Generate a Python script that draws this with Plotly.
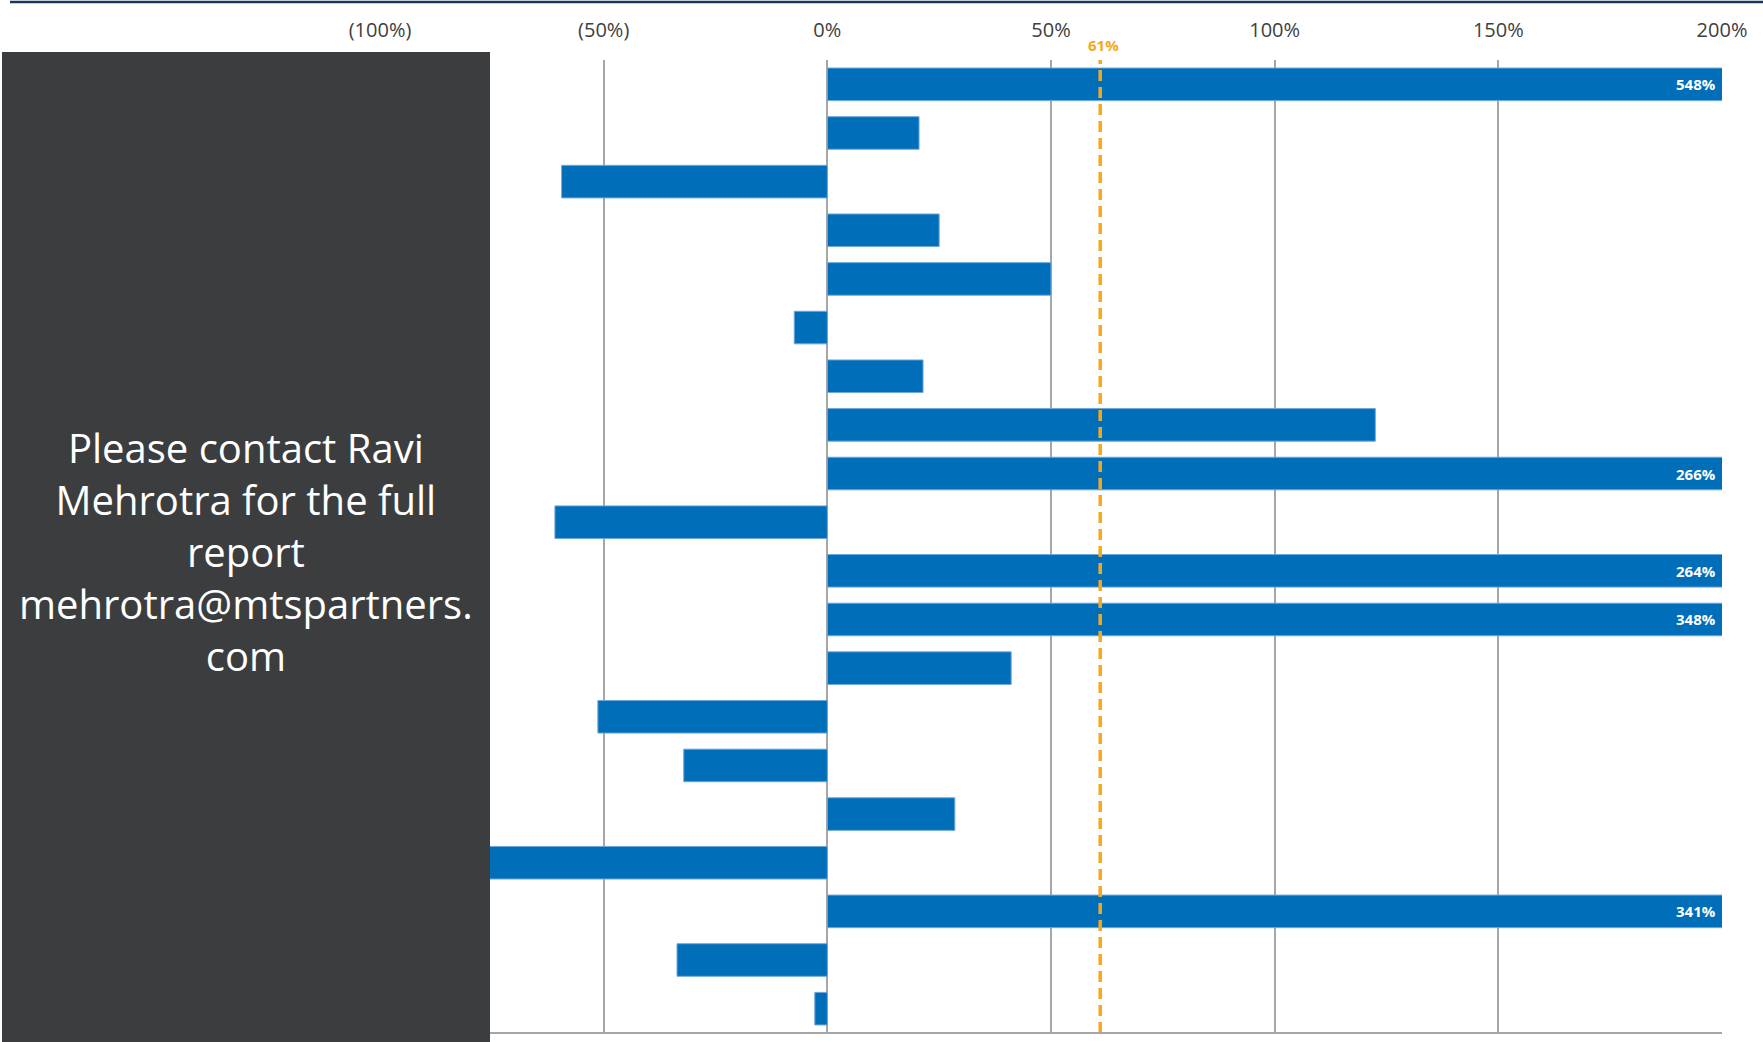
import plotly.graph_objects as go

# ---- data -------------------------------------------------------------
categories = [f"Item {i}" for i in range(1, 21)]
growth_pct = [548, 20.5, -59.4, 25.0, 50.0, -7.4, 21.4, 122.5, 266, -60.9,
              264, 348, 41.1, -51.3, -32.1, 28.5, -80.0, 341, -33.6, -2.8]
average_pct = 61
tick_values = [-100, -50, 0, 50, 100, 150, 200]
tick_labels = ["(100%)", "(50%)", "0%", "50%", "100%", "150%", "200%"]
contact_lines = ["Please contact Ravi", "Mehrotra for the full", "report",
                 "mehrotra@mtspartners.", "com"]

# ---- layout constants ---------------------------------------------------
W, H = 1763, 1042
M_L, M_R, M_T, M_B = 380, 41, 60, 9
X_MIN, X_MAX = -100, 200
PLOT_W = W - M_L - M_R
PLOT_H = H - M_T - M_B

BAR_BLUE = "#006EB9"
GRID = "#A6A6A6"
ORANGE = "#F5A81C"
FONT = "Open Sans"


def px_x(px):
    """Pixel column -> paper x."""
    return (px - M_L) / PLOT_W


def px_y(py):
    """Pixel row (from top) -> paper y."""
    return (H - M_B - py) / PLOT_H


fig = go.Figure()

fig.add_trace(go.Bar(
    y=categories,
    x=growth_pct,
    orientation="h",
    marker=dict(color=BAR_BLUE, line=dict(color="#6FA8DC", width=1)),
    hoverinfo="x+y",
))

# value labels for bars that run past the axis maximum
for cat, v in zip(categories, growth_pct):
    if v > X_MAX:
        fig.add_annotation(
            x=X_MAX, y=cat, xref="x", yref="y",
            text=f"<b>{v:.0f}%</b>", showarrow=False,
            xanchor="right", xshift=-4,
            font=dict(family=FONT, size=15, color="white"),
        )

# average reference line
fig.add_shape(type="line", xref="x", yref="paper",
              x0=average_pct, x1=average_pct, y0=0, y1=1,
              line=dict(color=ORANGE, width=3.5, dash="11px,6px"),
              layer="above")
fig.add_annotation(x=average_pct, y=1, xref="x", yref="paper",
                   text=f"<b>{average_pct}%</b>", showarrow=False,
                   yanchor="bottom", yshift=3, xshift=3,
                   font=dict(family=FONT, size=15, color=ORANGE))

# bottom axis rule
fig.add_shape(type="line", xref="paper", yref="paper",
              x0=0, x1=1, y0=0, y1=0,
              line=dict(color=GRID, width=2), layer="above")

# dark panel over the left side
fig.add_shape(type="rect", xref="paper", yref="paper",
              x0=px_x(2), x1=px_x(490), y0=px_y(1042), y1=px_y(52),
              fillcolor="#3C3D3F", line=dict(width=0), layer="above")
fig.add_annotation(x=px_x(246), y=px_y(551), xref="paper", yref="paper",
                   text="<br>".join(contact_lines), showarrow=False,
                   xanchor="center", yanchor="middle", align="center",
                   font=dict(family=FONT, size=40, color="white"))

# navy rule across the top
fig.add_shape(type="line", xref="paper", yref="paper",
              x0=px_x(10), x1=px_x(W), y0=px_y(2), y1=px_y(2),
              line=dict(color="#17375E", width=2.5))

fig.update_layout(
    width=W, height=H,
    margin=dict(l=M_L, r=M_R, t=M_T, b=M_B, autoexpand=False),
    plot_bgcolor="white", paper_bgcolor="white",
    showlegend=False,
    bargap=0.33,
    font=dict(family=FONT),
)
fig.update_xaxes(
    side="top", range=[X_MIN, X_MAX],
    tickvals=tick_values, ticktext=tick_labels,
    tickfont=dict(family=FONT, size=20, color="#404040"),
    ticks="", ticklabelstandoff=18,
    showgrid=True, gridcolor=GRID, gridwidth=1.5,
    zeroline=True, zerolinecolor=GRID, zerolinewidth=1.5,
    showline=False, fixedrange=True,
)
fig.update_yaxes(
    autorange="reversed", showticklabels=False, showgrid=False,
    ticks="", showline=False, zeroline=False,
)

fig.write_html("out.html")
